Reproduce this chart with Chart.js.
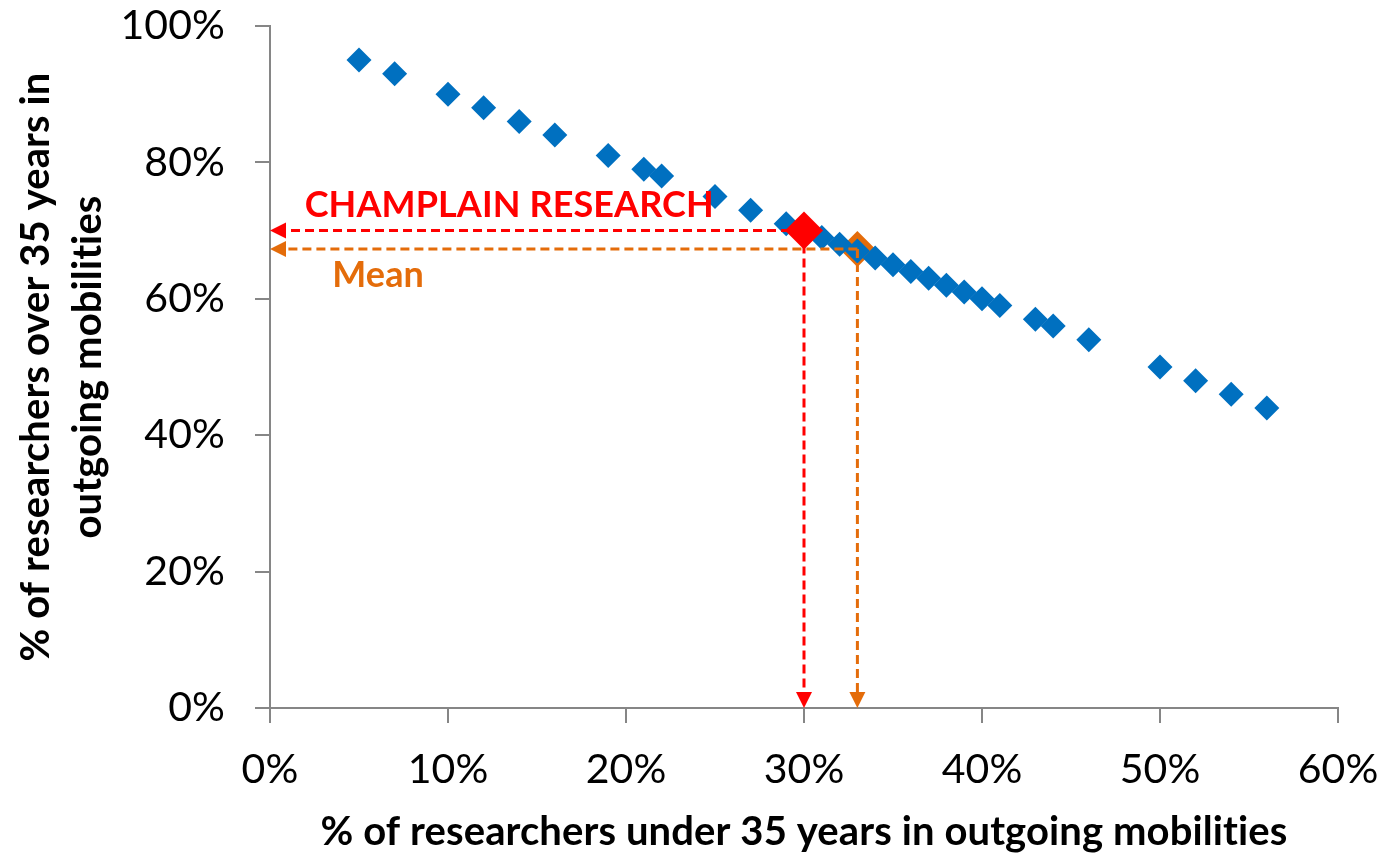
<!DOCTYPE html>
<html>
<head>
<meta charset="utf-8">
<script src="https://cdn.jsdelivr.net/npm/chart.js@4/dist/chart.umd.min.js"></script>
<style>
  html, body { margin: 0; padding: 0; background: #ffffff; }
  #wrap { width: 1385px; height: 854px; }
</style>
</head>
<body>
<div id="wrap"><canvas id="chart" width="1385" height="854"></canvas></div>
<script>
// Share of outgoing researchers under 35 (x) vs over 35 (y), one point per institution
const underShare = [5, 7, 10, 12, 14, 16, 19, 21, 22, 25, 27, 29, 31, 32, 33, 34, 35, 36, 37, 38, 39, 40, 41, 43, 44, 46, 50, 52, 54, 56];
const overShare  = [95, 93, 90, 88, 86, 84, 81, 79, 78, 75, 73, 71, 69, 68, 67, 66, 65, 64, 63, 62, 61, 60, 59, 57, 56, 54, 50, 48, 46, 44];

// Highlighted institution and the overall mean
const champlainX = [30];
const champlainY = [70];
const meanX = [33];
const meanY = [67.3];

const xTicks = [0, 10, 20, 30, 40, 50, 60];
const yTicks = [0, 20, 40, 60, 80, 100];

const BLUE = '#0070C0';
const RED = '#FF0000';
const ORANGE = '#E46C0A';
const AXIS = '#868686';

const toPoints = (xs, ys) => xs.map((x, i) => ({ x: x, y: ys[i] }));

// Slight letter spacing keeps "ti" / "fi" from merging into ligatures
const textSetup = {
  id: 'textSetup',
  beforeDraw(chart) {
    if ('letterSpacing' in chart.ctx) chart.ctx.letterSpacing = '0.1px';
  }
};

// Dashed guide lines from a marker to both axes, ending in arrowheads
const guideArrows = {
  id: 'guideArrows',
  afterDatasetDraw(chart, args) {
    if (args.index !== 1) return; // after the main series, below the highlighted marker
    const { ctx, scales: { x, y } } = chart;
    const head = 16, half = 8;
    const draw = (vx, vy, color) => {
      const px = x.getPixelForValue(vx), py = y.getPixelForValue(vy);
      const x0 = x.getPixelForValue(0), y0 = y.getPixelForValue(0);
      ctx.save();
      ctx.strokeStyle = color;
      ctx.fillStyle = color;
      ctx.lineWidth = 3;
      ctx.setLineDash([9, 5]);
      ctx.beginPath();
      ctx.moveTo(px, py);
      ctx.lineTo(x0 + head, py);
      ctx.moveTo(px, py);
      ctx.lineTo(px, y0 - head);
      ctx.stroke();
      ctx.setLineDash([]);
      ctx.beginPath();
      ctx.moveTo(x0, py);
      ctx.lineTo(x0 + head, py - half);
      ctx.lineTo(x0 + head, py + half);
      ctx.closePath();
      ctx.fill();
      ctx.beginPath();
      ctx.moveTo(px, y0);
      ctx.lineTo(px - half, y0 - head);
      ctx.lineTo(px + half, y0 - head);
      ctx.closePath();
      ctx.fill();
      ctx.restore();
    };
    draw(meanX[0], meanY[0], ORANGE);
    draw(champlainX[0], champlainY[0], RED);
  },
  afterDraw(chart) {
    const { ctx, scales: { x, y } } = chart;
    ctx.save();
    ctx.font = 'bold 36px Lato';
    ctx.textBaseline = 'alphabetic';
    ctx.textAlign = 'left';
    ctx.fillStyle = RED;
    ctx.fillText('CHAMPLAIN RESEARCH', x.getPixelForValue(1.95), y.getPixelForValue(72.0));
    ctx.fillStyle = ORANGE;
    ctx.fillText('Mean', x.getPixelForValue(3.5), y.getPixelForValue(61.7));
    ctx.restore();
  }
};

new Chart(document.getElementById('chart'), {
  type: 'scatter',
  data: {
    datasets: [
      {
        label: 'CHAMPLAIN RESEARCH',
        data: toPoints(champlainX, champlainY),
        pointStyle: 'rectRot',
        pointRadius: 19,
        backgroundColor: RED,
        borderColor: RED,
        borderWidth: 0
      },
      {
        label: 'Institutions',
        data: toPoints(underShare, overShare),
        pointStyle: 'rectRot',
        pointRadius: 12.5,
        backgroundColor: BLUE,
        borderColor: BLUE,
        borderWidth: 0
      },
      {
        label: 'Mean',
        data: toPoints(meanX, meanY),
        pointStyle: 'rectRot',
        pointRadius: 18,
        backgroundColor: ORANGE,
        borderColor: ORANGE,
        borderWidth: 0
      }
    ]
  },
  options: {
    responsive: false,
    animation: false,
    clip: false,
    layout: { padding: { top: 26, right: 47, left: 0, bottom: 0 } },
    plugins: { legend: { display: false }, tooltip: { enabled: false } },
    scales: {
      x: {
        type: 'linear',
        min: 0,
        max: 60,
        afterBuildTicks(scale) { scale.ticks = xTicks.map(v => ({ value: v })); },
        afterFit(scale) {
          scale.height = 146;
          scale.paddingLeft = 0;
          scale.paddingRight = 0;
        },
        border: { display: true, color: AXIS, width: 2 },
        grid: { display: true, drawOnChartArea: false, drawTicks: true, tickLength: 15, color: AXIS, lineWidth: 2 },
        ticks: {
          padding: 22,
          color: '#000000',
          font: { family: 'Lato', size: 41 },
          maxRotation: 0,
          callback: v => v + '%'
        },
        title: {
          display: true,
          text: '% of researchers under 35 years in outgoing mobilities',
          color: '#000000',
          font: { family: 'Lato', size: 40, weight: 'bold', lineHeight: 1.1 },
          padding: { top: 0, bottom: 0 }
        }
      },
      y: {
        type: 'linear',
        min: 0,
        max: 100,
        afterBuildTicks(scale) { scale.ticks = yTicks.map(v => ({ value: v })); },
        afterFit(scale) {
          scale.width = 270;
          scale.paddingTop = 0;
          scale.paddingBottom = 0;
        },
        border: { display: true, color: AXIS, width: 2 },
        grid: { display: true, drawOnChartArea: false, drawTicks: true, tickLength: 15, color: AXIS, lineWidth: 2 },
        ticks: {
          padding: 30,
          color: '#000000',
          font: { family: 'Lato', size: 41 },
          callback: v => v + '%'
        },
        title: {
          display: true,
          text: ['% of researchers over 35 years in', 'outgoing mobilities'],
          color: '#000000',
          font: { family: 'Lato', size: 40, weight: 'bold', lineHeight: 1.3 },
          padding: { top: 10, bottom: 0 }
        }
      }
    }
  },
  plugins: [textSetup, guideArrows]
});
</script>
</body>
</html>
